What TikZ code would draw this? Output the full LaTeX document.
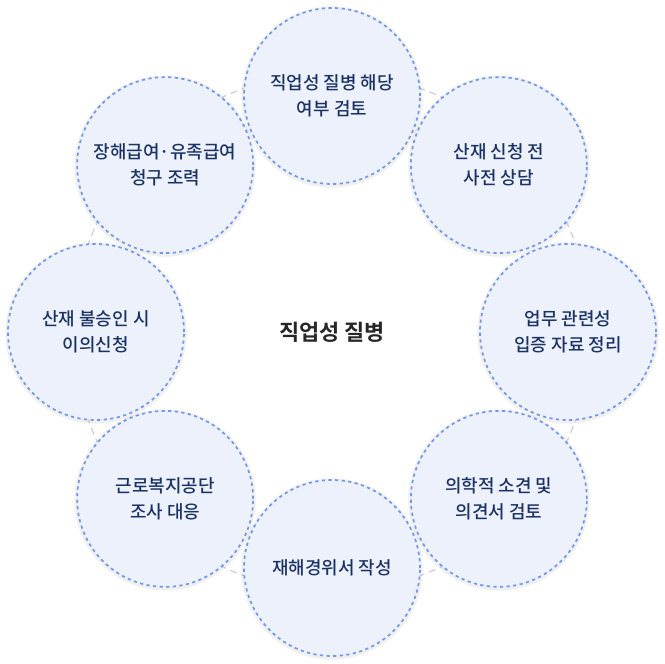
\documentclass[tikz,border=0pt]{standalone}
\usepackage{fontspec}
\newfontfamily\kr{Noto Sans CJK KR Medium}
\newfontfamily\krb{Noto Sans CJK KR Bold}
\usepackage{tikz}
\usepackage{xcolor}
\usetikzlibrary{positioning,shadows}

\definecolor{fill-a}{HTML}{EDF1FC}
\definecolor{line-a}{HTML}{7097EA}
\definecolor{text-navy}{HTML}{1B3364}
\definecolor{text-dark}{HTML}{262626}

\begin{document}
\begin{tikzpicture}
[
x=1bp, y=1bp,
step-a/.style={circle, minimum size = 176bp, fill=fill-a, text=text-navy, align=center,
               font=\kr\fontsize{18}{26}\selectfont,
               drop shadow={opacity=0.12, shadow xshift=0bp, shadow yshift=-1bp, shadow scale=1.03}},
ring-a/.style={draw=line-a, line width=1.7bp, dash pattern=on 3.2bp off 3.4bp},
orbit-a/.style={draw=black!18, line width=1.3bp, dash pattern=on 7bp off 5bp},
text-a/.style={text=text-dark, font=\krb\fontsize{22}{26}\selectfont}
]

\useasboundingbox (-332,-332) rectangle (332,332);

\node (hub)    [text-a]                   at (0,0)       {직업성 질병};
\draw [orbit-a] (hub.center) circle (259);

\node (step-1) [step-a]                   at (90:236)    {직업성 질병 해당\\여부 검토};
\node (step-2) [step-a]                   at (45:236)    {산재 신청 전\\사전 상담};
\node (step-3) [step-a]                   at (0:236)     {업무 관련성\\입증 자료 정리};
\node (step-4) [step-a]                   at (-45:236)   {의학적 소견 및\\의견서 검토};
\node (step-5) [step-a]                   at (-90:236)   {재해경위서 작성};
\node (step-6) [step-a]                   at (-135:236)  {근로복지공단\\조사 대응};
\node (step-7) [step-a]                   at (180:236)   {산재 불승인 시\\이의신청};
\node (step-8) [step-a]                   at (135:236)   {장해급여·유족급여\\청구 조력};

% dashed outlines over all fills
\draw [ring-a] (step-1.center) circle (88);
\draw [ring-a] (step-2.center) circle (88);
\draw [ring-a] (step-3.center) circle (88);
\draw [ring-a] (step-4.center) circle (88);
\draw [ring-a] (step-5.center) circle (88);
\draw [ring-a] (step-6.center) circle (88);
\draw [ring-a] (step-7.center) circle (88);
\draw [ring-a] (step-8.center) circle (88);

\end{tikzpicture}
\end{document}
